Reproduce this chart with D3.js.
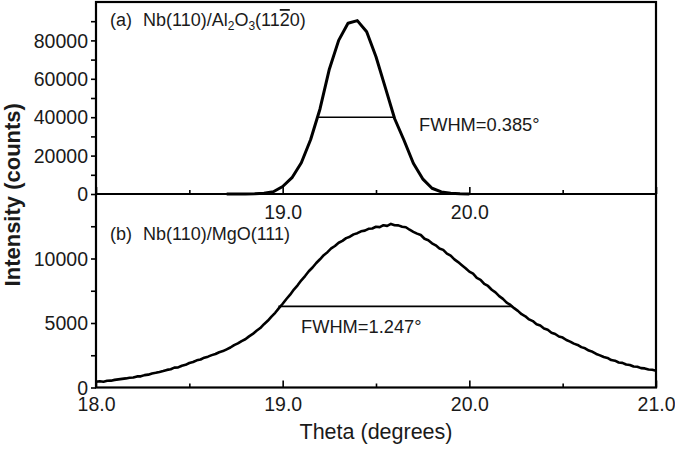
<!DOCTYPE html>
<html><head><meta charset="utf-8">
<script src="https://cdn.jsdelivr.net/npm/d3@7"></script>
<style>body{margin:0;background:#fff}svg{display:block}</style>
</head><body>
<svg id="c" width="675" height="451"></svg>
<script>
// ---- data ----
const topTheta = [18.70,18.75,18.80,18.85,18.90,18.95,19.00,19.05,19.10,19.15,19.20,19.25,19.30,19.35,19.40,19.45,19.50,19.55,19.60,19.65,19.70,19.75,19.80,19.85,19.90,19.95,20.00];
const topCounts = [0,20,60,160,450,1200,3900,8500,16300,28400,44300,65000,80000,88900,90300,84500,71500,55400,39200,28000,16000,7900,3000,1100,400,150,50];

const botStart = 18.0, botStep = 0.02;
const botCounts = [
450,485,450,520,530,590,630,670,705,760,
780,860,865,960,995,1090,1140,1205,1280,1365,
1420,1540,1555,1690,1760,1900,1975,2105,2170,2310,
2390,2510,2600,2735,2820,2960,3100,3285,3420,3600,
3740,3965,4150,4395,4610,4910,5170,5495,5790,6150,
6490,6860,7195,7590,7920,8310,8640,9010,9300,9655,
9940,10260,10490,10780,10970,11220,11370,11580,11690,11870,
11960,12110,12160,12300,12330,12460,12430,12580,12530,12680,
12580,12570,12460,12420,12230,12070,11930,11820,11530,11420,
11180,11020,10780,10670,10380,10220,9930,9720,9480,9250,
8980,8820,8500,8350,8030,7870,7580,7370,7080,6870,
6580,6400,6150,5940,5680,5520,5280,5150,4910,4800,
4580,4470,4250,4150,3950,3870,3680,3560,3400,3300,
3130,3040,2860,2770,2600,2490,2360,2290,2130,2080,
1940,1910,1780,1750,1630,1610,1500,1480,1400,1370,
1300];

const xMajor = [18,19,20,21];
const xMinor = [18.5,19.5,20.5];
const xLabels = ["18.0","19.0","20.0","21.0"];
const topXLabelIdx = [1,2];
const topYMajor = [0,20000,40000,60000,80000];
const topYMinor = [10000,30000,50000,70000,90000];
const botYMajor = [0,5000,10000];
const botYMinor = [2500,7500,12500];
const fwhmTop = [19.19, 19.596, 40000];
const fwhmBot = [18.977, 20.232, 6290];
const fwhmTopLabel = "FWHM=0.385°";
const fwhmBotLabel = "FWHM=1.247°";

// ---- layout ----
const L = 96, R = 656, T = 2, M = 194, B = 387.5;
const FONT = "'Liberation Sans', Arial, sans-serif";
const svg = d3.select("#c").style("font-family", FONT);

const x = d3.scaleLinear().domain([18, 21]).range([L, R]);
const yT = d3.scaleLinear().domain([0, 100000]).range([M, T]);
const yB = d3.scaleLinear().domain([0, 15000]).range([B, M]);

function xAxis(yPos, major, labelled, pad) {
  const gMin = svg.append("g").attr("transform", `translate(0,${yPos})`)
    .call(d3.axisBottom(x).tickValues(xMinor).tickSize(-4).tickFormat(""));
  const gMaj = svg.append("g").attr("transform", `translate(0,${yPos})`)
    .call(d3.axisBottom(x).tickValues(major).tickSize(-7).tickPadding(pad)
      .tickFormat(d => labelled.includes(d) ? xLabels[xMajor.indexOf(d)] : ""));
  [gMin, gMaj].forEach(g => {
    g.select(".domain").remove();
    g.selectAll("line").attr("stroke", "#000").attr("stroke-width", 1.6);
    g.selectAll("text").attr("font-size", 19.5).attr("fill", "#1a1a1a").attr("font-family", FONT);
  });
}
xAxis(M, xMajor, topXLabelIdx.map(i => xMajor[i]), 11);
xAxis(B, xMajor, xMajor, 9.5);

function yAxis(scale, major, minor) {
  const gMin = svg.append("g").attr("transform", `translate(${L},0)`)
    .call(d3.axisLeft(scale).tickValues(minor).tickSize(5).tickFormat(""));
  const gMaj = svg.append("g").attr("transform", `translate(${L},0)`)
    .call(d3.axisLeft(scale).tickValues(major).tickSize(5).tickPadding(3).tickFormat(d3.format("d")));
  [gMin, gMaj].forEach(g => {
    g.select(".domain").remove();
    g.selectAll("line").attr("stroke", "#000").attr("stroke-width", 1.6);
    g.selectAll("text").attr("font-size", 19.5).attr("fill", "#1a1a1a").attr("font-family", FONT).attr("dy", "0.34em");
  });
}
yAxis(yT, topYMajor, topYMinor);
yAxis(yB, botYMajor, botYMinor);

// frame
svg.append("rect").attr("x", L).attr("y", T).attr("width", R - L).attr("height", B - T)
  .attr("fill", "none").attr("stroke", "#000").attr("stroke-width", 2.2);
svg.append("line").attr("x1", L).attr("x2", R).attr("y1", M).attr("y2", M)
  .attr("stroke", "#000").attr("stroke-width", 2.2);

// curves
const topData = topTheta.map((t, i) => [t, topCounts[i]]);
const botData = botCounts.map((v, i) => [botStart + i * botStep, v]);

svg.append("path").datum(topData)
  .attr("d", d3.line().x(d => x(d[0])).y(d => yT(d[1])))
  .attr("fill", "none").attr("stroke", "#000").attr("stroke-width", 3).attr("stroke-linejoin", "round");
svg.append("path").datum(botData)
  .attr("d", d3.line().x(d => x(d[0])).y(d => yB(d[1])))
  .attr("fill", "none").attr("stroke", "#000").attr("stroke-width", 2.6).attr("stroke-linejoin", "round");

// FWHM lines
svg.append("line").attr("x1", x(fwhmTop[0])).attr("x2", x(fwhmTop[1]))
  .attr("y1", yT(fwhmTop[2])).attr("y2", yT(fwhmTop[2])).attr("stroke", "#000").attr("stroke-width", 1.6);
svg.append("line").attr("x1", x(fwhmBot[0])).attr("x2", x(fwhmBot[1]))
  .attr("y1", yB(fwhmBot[2])).attr("y2", yB(fwhmBot[2])).attr("stroke", "#000").attr("stroke-width", 1.6);

svg.append("text").attr("x", 419).attr("y", 131).attr("font-size", 18.3).attr("fill", "#1a1a1a").text(fwhmTopLabel);
svg.append("text").attr("x", 301).attr("y", 333).attr("font-size", 18.3).attr("fill", "#1a1a1a").text(fwhmBotLabel);

// panel labels
svg.append("text").attr("x", 110).attr("y", 26).attr("font-size", 18).attr("fill", "#1a1a1a").text("(a)");
const ta = svg.append("text").attr("x", 143).attr("y", 26).attr("font-size", 18).attr("fill", "#1a1a1a");
ta.append("tspan").text("Nb(110)/Al");
ta.append("tspan").attr("font-size", 12).attr("dy", 4).text("2");
ta.append("tspan").attr("dy", -4).text("O");
ta.append("tspan").attr("font-size", 12).attr("dy", 4).text("3");
ta.append("tspan").attr("dy", -4).text("(11");
ta.append("tspan").style("text-decoration", "overline").text("2");
ta.append("tspan").text("0)");

svg.append("text").attr("x", 110).attr("y", 240).attr("font-size", 18).attr("fill", "#1a1a1a").text("(b)");
svg.append("text").attr("x", 143).attr("y", 240).attr("font-size", 18).attr("fill", "#1a1a1a").text("Nb(110)/MgO(111)");

// axis titles
svg.append("text").attr("x", (L + R) / 2).attr("y", 439).attr("text-anchor", "middle")
  .attr("font-size", 21.5).attr("fill", "#1a1a1a").text("Theta (degrees)");
svg.append("text").attr("transform", `translate(20,${(T + B) / 2}) rotate(-90)`).attr("text-anchor", "middle")
  .attr("font-size", 22).attr("font-weight", "bold").attr("fill", "#1a1a1a").text("Intensity (counts)");
</script>
</body></html>
